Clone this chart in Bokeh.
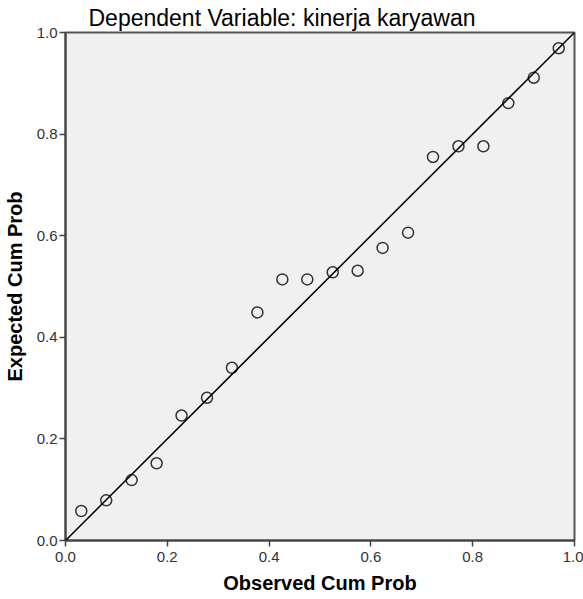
from bokeh.plotting import figure
from bokeh.models import Range1d, Slope, ColumnDataSource, FixedTicker
from bokeh.embed import file_html
from bokeh.resources import INLINE

# Data (Normal P-P plot of regression standardized residuals)
observed_cum_prob = [0.031, 0.080, 0.130, 0.179, 0.228, 0.278, 0.327, 0.377, 0.426, 0.475,
                     0.525, 0.574, 0.623, 0.673, 0.722, 0.772, 0.821, 0.870, 0.920, 0.969]
expected_cum_prob = [0.058, 0.079, 0.119, 0.152, 0.246, 0.281, 0.340, 0.449, 0.514, 0.514,
                     0.528, 0.531, 0.576, 0.606, 0.755, 0.776, 0.776, 0.861, 0.911, 0.969]
tick_values = [0.0, 0.2, 0.4, 0.6, 0.8, 1.0]
tick_labels = ["0.0", "0.2", "0.4", "0.6", "0.8", "1.0"]

title_text = "Dependent Variable: kinerja karyawan"
x_label_text = "Observed Cum Prob"
y_label_text = "Expected Cum Prob"

FONT = "Liberation Sans"

p = figure(width=583, height=599, output_backend="svg", toolbar_location=None,
           x_range=Range1d(0, 1), y_range=Range1d(0, 1),
           min_border_left=65, min_border_right=9, min_border_top=32, min_border_bottom=59)

p.title.text = title_text
p.title.align = "left"
p.title.offset = 23
p.title.text_font = FONT
p.title.text_font_size = "23px"
p.title.text_font_style = "normal"
p.title.text_color = "black"
p.title.standoff = 4

p.background_fill_color = "#F0F0F0"
p.border_fill_color = "white"
p.outline_line_color = "#555555"
p.outline_line_width = 2
p.xgrid.visible = False
p.ygrid.visible = False

for ax in (p.xaxis[0], p.yaxis[0]):
    ax.ticker = FixedTicker(ticks=tick_values)
    ax.major_label_overrides = {v: s for v, s in zip(tick_values, tick_labels)}
    ax.major_tick_out = 6
    ax.major_tick_in = 0
    ax.minor_tick_out = 0
    ax.minor_tick_in = 0
    ax.axis_line_color = "#444444"
    ax.axis_line_width = 2
    ax.major_tick_line_color = "#444444"
    ax.major_tick_line_width = 1.5
    ax.major_label_text_font = FONT
    ax.major_label_text_font_size = "15px"
    ax.major_label_text_color = "#333333"
    ax.major_label_standoff = 2
    ax.axis_label_text_font = FONT
    ax.axis_label_text_font_size = "20px"
    ax.axis_label_text_font_style = "bold"
    ax.axis_label_text_color = "black"

p.xaxis[0].axis_label = x_label_text
p.yaxis[0].axis_label = y_label_text
p.xaxis[0].major_label_standoff = 5
p.xaxis[0].axis_label_standoff = 7
p.yaxis[0].axis_label_standoff = 8

# Reference line y = x
p.add_layout(Slope(gradient=1, y_intercept=0, line_color="black", line_width=1.5))

src = ColumnDataSource(dict(x=observed_cum_prob, y=expected_cum_prob))
p.scatter("x", "y", source=src, marker="circle", size=11, fill_color=None,
          line_color="#333333", line_width=1.5)

open("out.html", "w").write(file_html(p, INLINE))
